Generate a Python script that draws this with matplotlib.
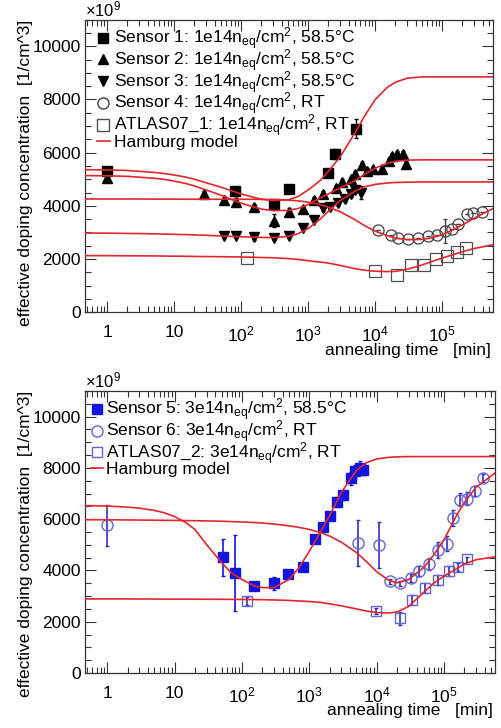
import numpy as np
import matplotlib.pyplot as plt
from matplotlib.lines import Line2D
from matplotlib.ticker import MultipleLocator, LogLocator, FuncFormatter, NullFormatter

plt.rcParams['font.family'] = ['Liberation Sans', 'DejaVu Sans']
plt.rcParams['mathtext.default'] = 'regular'

# annealing time grid for the Hamburg model curves [min]
t_model = [0.47, 1, 2, 3, 5, 7, 10, 15, 20, 30, 50, 70, 100, 150, 200, 300, 500, 700,
           1000, 1500, 2000, 3000, 5000, 7000, 1e4, 1.5e4, 2e4, 3e4, 5e4, 7e4, 1e5,
           1.5e5, 2e5, 3e5, 5.7e5]

# ---- top panel: 1e14 neq/cm^2 ----
s1_t = [1, 80, 310, 520, 2000, 2500, 5200]
s1_n = [5300, 4560, 4080, 4620, 5250, 5950, 6900]
s1_e = [150, 150, 150, 100, 100, 200, 350]

s2_t = [1, 28, 56, 84, 155, 310, 520, 840, 1230, 1680, 2600, 3200, 4300, 5000, 6400,
        7600, 9300, 12700, 16000, 18000, 21000, 26000, 29000]
s2_n = [5050, 4450, 4230, 4150, 3970, 3450, 3780, 3900, 4230, 4460, 4680, 4900, 5000,
        5200, 5550, 5320, 5380, 5400, 5690, 5880, 5950, 5950, 5580]
s2_e = [100, 100, 150, 150, 100, 250, 150, 100, 100, 100, 100, 100, 100, 100, 100,
        100, 100, 100, 100, 100, 100, 100, 100]

s3_t = [56, 84, 155, 310, 520, 840, 1230, 1680, 2100, 2800, 3500, 4300, 5000, 6200]
s3_n = [2880, 2880, 2820, 2810, 2880, 3180, 3480, 3920, 3950, 4100, 4250, 4450, 4600, 4500]
s3_e = [100, 100, 100, 100, 100, 100, 100, 100, 100, 100, 100, 100, 100, 250]

s4_t = [11000, 17000, 22000, 31000, 44000, 62000, 84000, 110000, 140000, 170000,
        230000, 290000, 390000]
s4_n = [3080, 2920, 2800, 2770, 2800, 2850, 2900, 3070, 3150, 3330, 3700, 3750, 3780]
s4_e = [0, 0, 0, 0, 0, 0, 0, 450, 0, 0, 0, 0, 0]

a1_t = [123, 10000, 21000, 34000, 53000, 80000, 118000, 165000, 225000]
a1_n = [2060, 1560, 1390, 1780, 1780, 2000, 2100, 2250, 2430]

fit_s1 = [5360, 5350, 5330, 5300, 5260, 5220, 5160, 5080, 5000, 4870, 4700, 4580, 4450,
          4330, 4250, 4200, 4230, 4350, 4600, 4950, 5300, 5850, 6750, 7400, 8000, 8450,
          8650, 8800, 8850, 8850, 8850, 8850, 8850, 8850, 8850]
fit_s2 = [5140, 5130, 5110, 5080, 5040, 5000, 4930, 4840, 4750, 4600, 4400, 4250, 4100,
          3970, 3880, 3820, 3830, 3900, 4050, 4300, 4450, 4680, 4950, 5200, 5420, 5600,
          5670, 5720, 5730, 5730, 5730, 5730, 5730, 5730, 5730]
fit_s3 = [2980, 2975, 2965, 2960, 2950, 2940, 2930, 2920, 2910, 2895, 2870, 2855, 2840,
          2825, 2815, 2810, 2850, 2950, 3150, 3500, 3800, 4200, 4560, 4720, 4810, 4860,
          4880, 4890, 4900, 4900, 4900, 4900, 4900, 4900, 4900]
fit_s4 = [4260, 4260, 4260, 4260, 4255, 4255, 4255, 4252, 4250, 4250, 4250, 4250, 4250,
          4248, 4245, 4240, 4220, 4190, 4140, 4050, 3950, 3780, 3480, 3250, 3050, 2880,
          2790, 2730, 2740, 2800, 2920, 3120, 3290, 3540, 3900]
fit_a1 = [2130, 2130, 2125, 2122, 2120, 2115, 2110, 2105, 2100, 2095, 2090, 2085, 2080,
          2070, 2060, 2050, 2020, 1990, 1940, 1890, 1850, 1760, 1640, 1580, 1545, 1530,
          1540, 1620, 1780, 1910, 2040, 2180, 2280, 2400, 2540]

# ---- bottom panel: 3e14 neq/cm^2 ----
s5_t = [52, 80, 150, 300, 490, 800, 1200, 1600, 2000, 2600, 3200, 4100, 4800, 5700, 6300]
s5_n = [4510, 3900, 3390, 3500, 3860, 4140, 5230, 5700, 6130, 6680, 6950, 7600, 7870, 8000, 7930]
s5_e = [720, 1500, 150, 250, 120, 150, 150, 150, 150, 200, 200, 250, 250, 250, 200]

s6_t = [1, 5300, 10700, 15500, 22000, 32000, 43000, 59000, 81000, 110000, 137000,
        175000, 220000, 290000, 380000]
s6_n = [5760, 5070, 5000, 3580, 3500, 3700, 3980, 4250, 4800, 5040, 6050, 6760, 6800, 7100, 7600]
s6_e = [800, 900, 900, 100, 100, 150, 200, 250, 300, 300, 300, 250, 250, 200, 150]

a2_t = [120, 9600, 22000, 33000, 53000, 80000, 120000, 160000, 220000]
a2_n = [2820, 2420, 2140, 2860, 3310, 3620, 3970, 4140, 4440]
a2_e = [150, 100, 250, 200, 200, 200, 200, 150, 100]

fit_s5 = [6530, 6510, 6470, 6430, 6340, 6250, 6100, 5850, 5600, 5000, 4300, 3900, 3650,
          3400, 3330, 3330, 3650, 4100, 4750, 5550, 6150, 7050, 7900, 8200, 8350, 8410,
          8430, 8440, 8440, 8440, 8440, 8440, 8440, 8440, 8440]
fit_s6 = [5980, 5975, 5970, 5965, 5960, 5955, 5950, 5945, 5940, 5930, 5920, 5905, 5890,
          5870, 5850, 5810, 5740, 5680, 5600, 5470, 5340, 5100, 4700, 4350, 3950, 3620,
          3520, 3650, 4120, 4600, 5200, 6100, 6650, 7250, 7800]
fit_a2 = [2890, 2890, 2890, 2888, 2885, 2882, 2880, 2880, 2880, 2878, 2875, 2872, 2870,
          2865, 2860, 2850, 2830, 2810, 2790, 2750, 2700, 2620, 2500, 2420, 2360, 2340,
          2380, 2600, 3150, 3500, 3780, 4050, 4250, 4420, 4530]

RED = '#e3262b'
BLUE = '#1414e0'
LBLUE = '#6464d8'
FS = 12.5


def xfmt(v, pos):
    if v == 1:
        return '1'
    if v == 10:
        return '10'
    return '$10^{%d}$' % int(round(np.log10(v)))


def style(ax):
    ax.set_xscale('log')
    ax.set_xlim(0.47, 5.7e5)
    ax.set_ylim(0, 11000)
    ax.xaxis.set_major_locator(LogLocator(base=10, numticks=10))
    ax.xaxis.set_minor_locator(LogLocator(base=10, subs=np.arange(2, 10), numticks=20))
    ax.xaxis.set_major_formatter(FuncFormatter(xfmt))
    ax.xaxis.set_minor_formatter(NullFormatter())
    ax.yaxis.set_major_locator(MultipleLocator(2000))
    ax.yaxis.set_minor_locator(MultipleLocator(500))
    ax.tick_params(which='both', direction='in', top=True, right=True, width=0.8,
                   labelsize=FS, color='#333333')
    ax.tick_params(which='major', length=8)
    ax.tick_params(which='minor', length=4)
    ax.tick_params(axis='x', pad=9)
    ax.tick_params(axis='y', pad=3)
    for s in ax.spines.values():
        s.set_linewidth(0.9)
        s.set_color('#333333')
    ax.set_ylabel('effective doping concentration  [1/cm^3]', fontsize=12.5, loc='top')
    ax.yaxis.set_label_coords(-0.127, 1.0)
    ax.set_xlabel('annealing time   [min]', fontsize=FS, loc='right')
    ax.xaxis.set_label_coords(0.995, -0.105)
    ax.text(0.0, 1.012, r'$\times10^{9}$', transform=ax.transAxes, fontsize=12,
            ha='left', va='baseline')


fig = plt.figure(figsize=(5.01, 7.28), dpi=100)
ax1 = fig.add_axes([0.170, 0.571, 0.814, 0.402])
ax2 = fig.add_axes([0.170, 0.0755, 0.818, 0.3875])

# top panel
ms = 7
ax1.errorbar(s1_t, s1_n, yerr=s1_e, fmt='s', color='black', ms=ms, capsize=1.5, elinewidth=1)
ax1.errorbar(s2_t, s2_n, yerr=s2_e, fmt='^', color='black', ms=ms, capsize=1.5, elinewidth=1)
ax1.errorbar(s3_t, s3_n, yerr=s3_e, fmt='v', color='black', ms=ms, capsize=1.5, elinewidth=1)
ax1.errorbar(s4_t, s4_n, yerr=s4_e, fmt='o', mfc='none', mec='#404040', ecolor='#404040',
             ms=ms + 1, mew=0.9, capsize=1.5, elinewidth=1)
ax1.plot(a1_t, a1_n, 's', mfc='none', mec='#505050', ms=ms + 1, mew=0.9)
for f in (fit_s1, fit_s2, fit_s3, fit_s4, fit_a1):
    ax1.plot(t_model, f, color=RED, lw=1.2, zorder=4)
style(ax1)

h1 = [Line2D([], [], ls='none', marker='s', color='black', ms=ms),
      Line2D([], [], ls='none', marker='^', color='black', ms=ms),
      Line2D([], [], ls='none', marker='v', color='black', ms=ms),
      Line2D([], [], ls='none', marker='o', mfc='none', mec='#404040', ms=ms + 1),
      Line2D([], [], ls='none', marker='s', mfc='none', mec='#505050', ms=ms + 1),
      Line2D([], [], color=RED, lw=1.2)]
l1 = ['Sensor 1: 1e14n$_{eq}$/cm$^{2}$, 58.5°C',
      'Sensor 2: 1e14n$_{eq}$/cm$^{2}$, 58.5°C',
      'Sensor 3: 1e14n$_{eq}$/cm$^{2}$, 58.5°C',
      'Sensor 4: 1e14n$_{eq}$/cm$^{2}$, RT',
      'ATLAS07_1: 1e14n$_{eq}$/cm$^{2}$, RT',
      'Hamburg model']
ax1.legend(h1, l1, loc='upper left', bbox_to_anchor=(0.03, 0.98), frameon=False,
           fontsize=FS, handlelength=0.7, handletextpad=0.25, labelspacing=-0.27,
           borderpad=0, borderaxespad=0)

# bottom panel
ms2 = 6.5
ax2.errorbar(s5_t, s5_n, yerr=s5_e, fmt='s', color=BLUE, ms=ms2, capsize=1.5, elinewidth=1.2)
ax2.errorbar(s6_t, s6_n, yerr=s6_e, fmt='o', mfc='none', mec=LBLUE, ecolor='#3030c0',
             ms=ms2 + 1.5, mew=1, capsize=1.5, elinewidth=1.2)
ax2.errorbar(a2_t, a2_n, yerr=a2_e, fmt='s', mfc='none', mec=LBLUE, ecolor='#3030c0',
             ms=ms2 + 1, mew=1, capsize=1.5, elinewidth=1.2)
for f in (fit_s5, fit_s6, fit_a2):
    ax2.plot(t_model, f, color=RED, lw=1.2, zorder=4)
style(ax2)

h2 = [Line2D([], [], ls='none', marker='s', color=BLUE, ms=ms2),
      Line2D([], [], ls='none', marker='o', mfc='none', mec=LBLUE, ms=ms2 + 1.5),
      Line2D([], [], ls='none', marker='s', mfc='none', mec=LBLUE, ms=ms2 + 1),
      Line2D([], [], color=RED, lw=1.2)]
l2 = ['Sensor 5: 3e14n$_{eq}$/cm$^{2}$, 58.5°C',
      'Sensor 6: 3e14n$_{eq}$/cm$^{2}$, RT',
      'ATLAS07_2: 3e14n$_{eq}$/cm$^{2}$, RT',
      'Hamburg model']
ax2.legend(h2, l2, loc='upper left', bbox_to_anchor=(0.015, 0.98), frameon=False,
           fontsize=FS, handlelength=0.7, handletextpad=0.15, labelspacing=-0.27,
           borderpad=0, borderaxespad=0)

fig.savefig('out.png', dpi=100)
